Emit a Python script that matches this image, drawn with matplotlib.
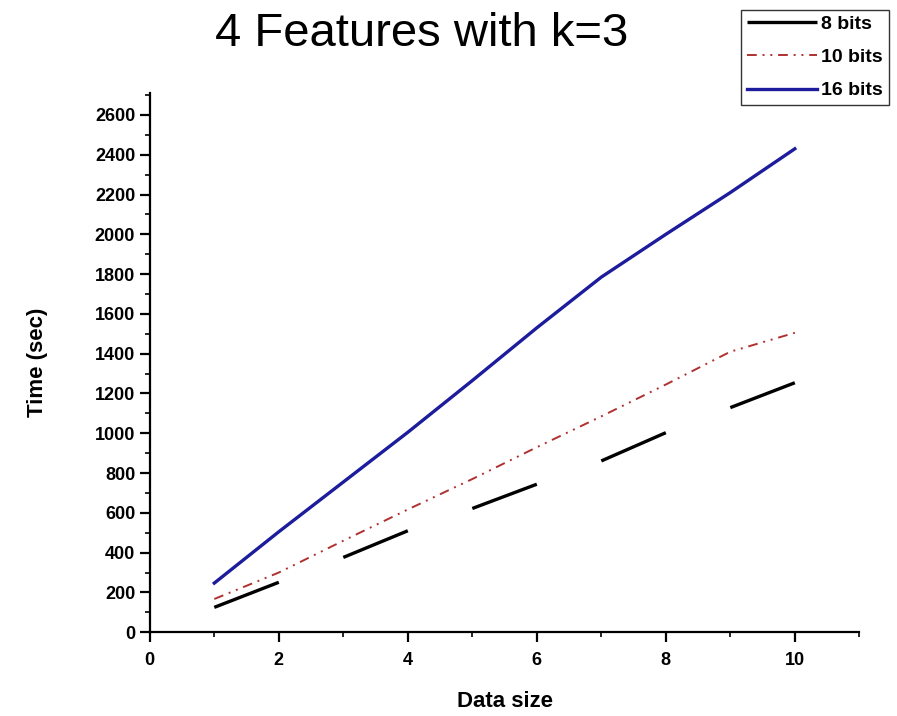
import matplotlib
matplotlib.use('Agg')
import matplotlib.pyplot as plt
from matplotlib.ticker import MultipleLocator

plt.rcParams['font.family'] = ['Liberation Sans', 'DejaVu Sans']

data_size = [1, 2, 3, 4, 5, 6, 7, 8, 9, 10]
time_8bits = [125, 251, 376, 510, 622, 744, 861, 1003, 1129, 1254]
time_10bits = [167, 300, 460, 617, 770, 930, 1085, 1245, 1410, 1505]
time_16bits = [247, 505, 755, 1005, 1265, 1530, 1785, 2000, 2210, 2430]

fig = plt.figure(figsize=(8.97, 7.16), dpi=100)
ax = fig.add_axes([0.167, 0.117, 0.791, 0.753])

# 8 bits drawn as separate pieces (1-2, 3-4, ...) like the original
for i in range(0, len(data_size) - 1, 2):
    ax.plot(data_size[i:i + 2], time_8bits[i:i + 2], color='black', lw=2.4,
            solid_capstyle='butt', label='8 bits' if i == 0 else None)
ax.plot(data_size, time_10bits, color='#b03030', lw=1.4,
        linestyle=(0, (5, 3, 1, 3, 1, 3)), label='10 bits')
ax.plot(data_size, time_16bits, color='#1c1c9c', lw=2.4, label='16 bits')

ax.set_xlim(0, 11)
ax.set_ylim(0, 2710)
ax.xaxis.set_major_locator(MultipleLocator(2))
ax.xaxis.set_minor_locator(MultipleLocator(1))
ax.yaxis.set_minor_locator(MultipleLocator(100))
ax.set_yticks(range(0, 2700, 200))

for s in ['top', 'right']:
    ax.spines[s].set_visible(False)
for s in ['left', 'bottom']:
    ax.spines[s].set_linewidth(1.6)

ax.tick_params(which='major', direction='out', length=7, width=1.6, labelsize=13)
ax.tick_params(axis='x', which='major', pad=7)
ax.tick_params(which='minor', direction='out', length=3.5, width=1.2)
for lbl in ax.get_xticklabels() + ax.get_yticklabels():
    lbl.set_fontweight('bold')

ax.set_xlabel('Data size', fontsize=16, fontweight='bold', labelpad=16)
ax.set_ylabel('Time (sec)', fontsize=16, fontweight='bold', labelpad=34)

fig.text(0.47, 0.952, '4 Features with k=3', fontsize=34, ha='center', va='center')

handles, labels = ax.get_legend_handles_labels()
leg = fig.legend(handles, labels, loc='upper right', bbox_to_anchor=(0.995, 0.992),
                 fontsize=14, frameon=True, fancybox=False, edgecolor='black',
                 handlelength=3.6, handletextpad=0.2, labelspacing=0.8,
                 borderpad=0.3, borderaxespad=0.2)
for t in leg.get_texts():
    t.set_fontweight('bold')
leg.get_frame().set_linewidth(1.0)

fig.savefig('out.png', dpi=100)
